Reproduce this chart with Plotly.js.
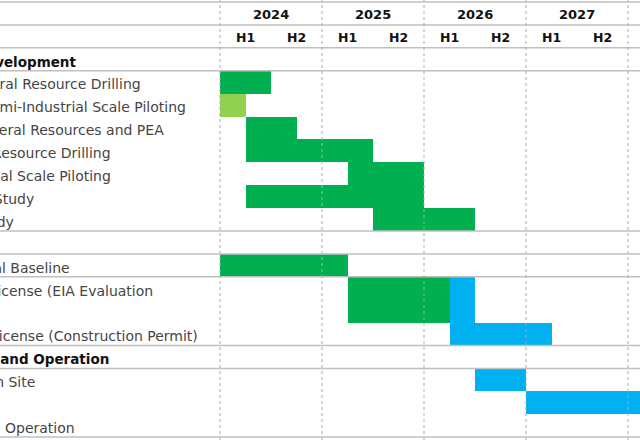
<!DOCTYPE html>
<html>
<head>
<meta charset="utf-8">
<script src="https://cdn.plot.ly/plotly-3.0.1.min.js"></script>
<style>html,body{margin:0;padding:0;background:#fff;}#chart{width:640px;height:440px;}</style>
</head>
<body>
<div id="chart"></div>
<script>
// ---------- data ----------
const years      = [2024, 2025, 2026, 2027, 2028];
const yearSpan   = [1, 1, 1, 1, 0.5];
const halfLabels = ['H1', 'H2'];

// row labels (row index from top of the sheet)
const labelText = [
  'Project Development',
  'Mineral Resource Drilling',
  'Semi-Industrial Scale Piloting',
  'Mineral Resources and PEA',
  'Infill Resource Drilling',
  'Industrial Scale Piloting',
  'Pre-Feasibility Study',
  'Feasibility Study',
  'Environmental Baseline',
  'Previous License (EIA Evaluation',
  'Installation License (Construction Permit)',
  'Construction and Operation',
  'Construction on Site',
  'Operation'
];
const labelRow  = [2, 3, 4, 5, 6, 7, 8, 9, 11, 12, 14, 15, 16, 18];
const labelBold = [true, false, false, false, false, false, false, false, false, false, false, true, false, false];

// gantt bars (start / end in years)
const barRow   = [3, 4, 5, 6, 7, 8, 9, 11, 12, 12, 14, 16, 17];
const barSpan  = [1, 1, 1, 1, 1, 1, 1, 1, 2, 2, 1, 1, 1];
const barStart = [2024.0, 2024.0, 2024.25, 2024.25, 2025.25, 2024.25, 2025.5, 2024.0, 2025.25, 2026.25, 2026.25, 2026.5, 2027.0];
const barEnd   = [2024.5, 2024.25, 2024.75, 2025.5, 2026.0, 2026.0, 2026.5, 2025.25, 2026.25, 2026.5, 2027.25, 2027.0, 2028.5];
const barKind  = ['study', 'pilot', 'study', 'study', 'study', 'study', 'study', 'study', 'study', 'permit', 'permit', 'permit', 'permit'];

// row separators
const ruleRows = [0, 1, 2, 3, 10, 11, 12, 15, 16, 19];

// ---------- layout constants ----------
const W = 640, H = 440;
const rowH = 22.9, topPx = 2;
const x0px = 220, yearPx = 102;
const labelEndPx = [78, 143, 188, 166, 113, 113, 36, 16, 72, 155, 200, 111, 37, 77];
const kindColor = {study: '#00B050', pilot: '#92D050', permit: '#00B0F0'};
const FONT = 'DejaVu Sans, sans-serif';

const xRange = [years[0] - x0px / yearPx, years[0] + (W - x0px) / yearPx];
const yRange = [(H - topPx) / rowH, -topPx / rowH];

const trace = {
  type: 'bar',
  orientation: 'h',
  y: barRow.map((r, i) => r + barSpan[i] / 2),
  base: barStart,
  x: barEnd.map((e, i) => e - barStart[i]),
  width: barSpan,
  marker: {color: barKind.map(k => kindColor[k]), line: {width: 0}},
  hoverinfo: 'skip',
  showlegend: false
};

const shapes = [];
ruleRows.forEach(r => shapes.push({
  type: 'line', xref: 'paper', yref: 'y', x0: 0, x1: 1, y0: r, y1: r,
  line: {color: '#c0c0c0', width: 1.5}, layer: 'above'
}));
years.forEach(yr => shapes.push({
  type: 'line', xref: 'x', yref: 'paper', x0: yr, x1: yr, y0: 0, y1: 1,
  line: {color: '#ababab', width: 1, dash: 'dot'}, layer: 'above'
}));

const annotations = [];
years.forEach((yr, i) => {
  annotations.push({
    xref: 'x', yref: 'y', x: yr + yearSpan[i] / 2, y: 0.55, text: '<b>' + yr + '</b>',
    showarrow: false, xanchor: 'center', yanchor: 'middle',
    font: {family: FONT, size: 13, color: '#111111'}
  });
  if (yearSpan[i] === 1) {
    halfLabels.forEach((h, j) => annotations.push({
      xref: 'x', yref: 'y', x: yr + 0.25 + 0.5 * j, y: 1.55, text: '<b>' + h + '</b>',
      showarrow: false, xanchor: 'center', yanchor: 'middle',
      font: {family: FONT, size: 12.5, color: '#111111'}
    }));
  }
});
labelText.forEach((t, i) => annotations.push({
  xref: 'paper', yref: 'y', x: labelEndPx[i] / W, y: labelRow[i] + 0.6,
  text: labelBold[i] ? '<b>' + t + '</b>' : t,
  showarrow: false, xanchor: 'right', yanchor: 'middle',
  font: {family: FONT, size: labelBold[i] ? 13.5 : 14, color: labelBold[i] ? '#111111' : '#454545'}
}));

const layout = {
  width: W, height: H,
  margin: {l: 0, r: 0, t: 0, b: 0},
  paper_bgcolor: '#ffffff', plot_bgcolor: '#ffffff',
  xaxis: {range: xRange, visible: false, fixedrange: true},
  yaxis: {range: yRange, visible: false, fixedrange: true},
  bargap: 0,
  shapes: shapes,
  annotations: annotations
};

Plotly.newPlot('chart', [trace], layout, {displayModeBar: false, staticPlot: true});
</script>
</body>
</html>
